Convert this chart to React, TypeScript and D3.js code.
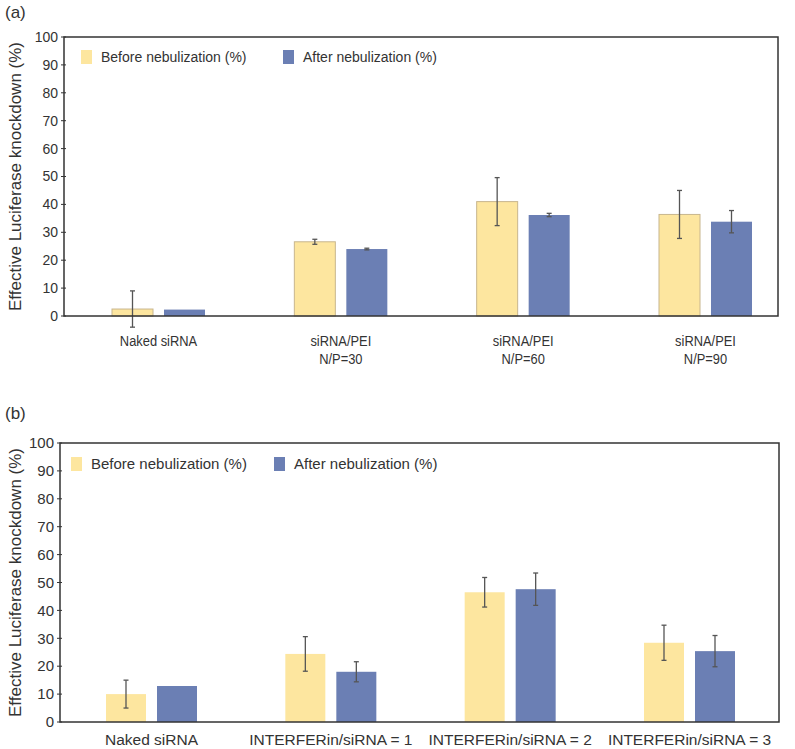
import * as d3 from 'd3'

// panel (a)
const categoriesA = [['Naked siRNA'], ['siRNA/PEI', 'N/P=30'], ['siRNA/PEI', 'N/P=60'], ['siRNA/PEI', 'N/P=90']]
const beforeA = [2.5, 26.6, 41.0, 36.4]
const beforeErrA = [6.5, 0.9, 8.6, 8.6]
const afterA = [2.3, 24.0, 36.2, 33.8]
const afterErrA = [0, 0.3, 0.6, 4.0]

// panel (b)
const categoriesB = [['Naked siRNA'], ['INTERFERin/siRNA = 1'], ['INTERFERin/siRNA = 2'], ['INTERFERin/siRNA = 3']]
const beforeB = [10.0, 24.4, 46.5, 28.4]
const beforeErrB = [5.0, 6.2, 5.3, 6.3]
const afterB = [12.9, 18.0, 47.6, 25.4]
const afterErrB = [0, 3.6, 5.8, 5.6]

const yTicks = [0, 10, 20, 30, 40, 50, 60, 70, 80, 90, 100]
const seriesNames = ['Before nebulization (%)', 'After nebulization (%)']

const FONT = '"Liberation Sans", Arial, sans-serif'
const YELLOW = '#fde69f'
const BLUE = '#6b7fb4'

type PanelProps = {
  tag: string
  tagY: number
  categories: string[][]
  before: number[]
  beforeErr: number[]
  after: number[]
  afterErr: number[]
  box: { left: number; right: number; top: number; bottom: number }
  centers: [number, number]
  barWidth: number
  gap: number
  tickFont: number
  labelFont: number
  labelY: number
  labelScaleX: number
  lineGap: number
  legend: { y: number; x1: number; x2: number; size: number }
  yellowStroke: string | null
}

function Panel(p: PanelProps) {
  const { box } = p
  const y = d3.scaleLinear().domain([0, 100]).range([box.bottom, box.top])
  const x = d3
    .scalePoint<string>()
    .domain(p.categories.map((c) => c.join(' ')))
    .range(p.centers)
  const sub = d3
    .scaleOrdinal<string, number>()
    .domain(['before', 'after'])
    .range([-p.gap / 2 - p.barWidth, p.gap / 2])

  const series = [
    { key: 'before', values: p.before, errs: p.beforeErr, color: YELLOW, stroke: p.yellowStroke },
    { key: 'after', values: p.after, errs: p.afterErr, color: BLUE, stroke: null },
  ]

  const midY = (box.top + box.bottom) / 2

  return (
    <g fontFamily={FONT}>
      <text x={5} y={p.tagY} fontSize={17} fill="#333">
        {p.tag}
      </text>

      <text
        transform={`translate(${17}, ${midY}) rotate(-90)`}
        textAnchor="middle"
        dominantBaseline="middle"
        fontSize={17}
        fill="#333"
      >
        Effective Luciferase knockdown (%)
      </text>

      {yTicks.map((t) => (
        <g key={t} transform={`translate(0, ${y(t)})`}>
          <line x1={box.left - 3} x2={box.left + 2} stroke="#333" strokeWidth={1} />
          <text
            x={box.left - 6}
            dy="0.35em"
            textAnchor="end"
            fontSize={p.tickFont}
            fill="#333"
          >
            {t}
          </text>
        </g>
      ))}

      {series.map((s) =>
        p.categories.map((c, i) => {
          const cx = x(c.join(' ')) ?? 0
          const bx = cx + sub(s.key)
          const top = y(s.values[i])
          const mid = bx + p.barWidth / 2
          const err = s.errs[i]
          return (
            <g key={`${s.key}-${i}`}>
              <rect
                x={bx}
                y={top}
                width={p.barWidth}
                height={box.bottom - top}
                fill={s.color}
                stroke={s.stroke ?? 'none'}
                strokeWidth={1}
              />
              {err > 0 && (
                <g stroke="#555" strokeWidth={1.3}>
                  <line x1={mid} x2={mid} y1={y(s.values[i] + err)} y2={y(s.values[i] - err)} />
                  <line x1={mid - 2.5} x2={mid + 2.5} y1={y(s.values[i] + err)} y2={y(s.values[i] + err)} />
                  <line x1={mid - 2.5} x2={mid + 2.5} y1={y(s.values[i] - err)} y2={y(s.values[i] - err)} />
                </g>
              )}
            </g>
          )
        })
      )}

      <rect
        x={box.left}
        y={box.top}
        width={box.right - box.left}
        height={box.bottom - box.top}
        fill="none"
        stroke="#333"
        strokeWidth={1.5}
      />

      {p.categories.map((c) => {
        const cx = x(c.join(' ')) ?? 0
        return (
          <text
            key={c.join(' ')}
            transform={`translate(${cx}, ${p.labelY}) scale(${p.labelScaleX}, 1)`}
            textAnchor="middle"
            fontSize={p.labelFont}
            fill="#333"
          >
            {c.map((line, j) => (
              <tspan key={line} x={0} dy={j === 0 ? 0 : p.lineGap}>
                {line}
              </tspan>
            ))}
          </text>
        )
      })}

      {seriesNames.map((name, i) => {
        const lx = i === 0 ? p.legend.x1 : p.legend.x2
        return (
          <g key={name}>
            <rect
              x={lx}
              y={p.legend.y - 7}
              width={11}
              height={14}
              fill={i === 0 ? YELLOW : BLUE}
            />
            <text x={lx + 20} y={p.legend.y} dy="0.35em" fontSize={p.legend.size} fill="#333">
              {name}
            </text>
          </g>
        )
      })}
    </g>
  )
}

export default function App() {
  return (
    <svg width={795} height={749} style={{ position: 'absolute', left: 0, top: 0, background: '#fff' }}>
      <rect width={795} height={749} fill="#fff" />
      <Panel
        tag="(a)"
        tagY={18}
        categories={categoriesA}
        before={beforeA}
        beforeErr={beforeErrA}
        after={afterA}
        afterErr={afterErrA}
        box={{ left: 64, right: 778, top: 37, bottom: 316 }}
        centers={[158.5, 705.5]}
        barWidth={41}
        gap={11}
        tickFont={14}
        labelFont={15}
        labelY={346}
        labelScaleX={0.86}
        lineGap={18}
        legend={{ y: 57, x1: 81, x2: 283, size: 14 }}
        yellowStroke="#c8b68e"
      />
      <Panel
        tag="(b)"
        tagY={419}
        categories={categoriesB}
        before={beforeB}
        beforeErr={beforeErrB}
        after={afterB}
        afterErr={afterErrB}
        box={{ left: 60, right: 779, top: 443, bottom: 722 }}
        centers={[151.5, 689.5]}
        barWidth={40}
        gap={11}
        tickFont={15}
        labelFont={15.5}
        labelY={745}
        labelScaleX={1}
        lineGap={18}
        legend={{ y: 464, x1: 71, x2: 274, size: 15 }}
        yellowStroke={null}
      />
    </svg>
  )
}
